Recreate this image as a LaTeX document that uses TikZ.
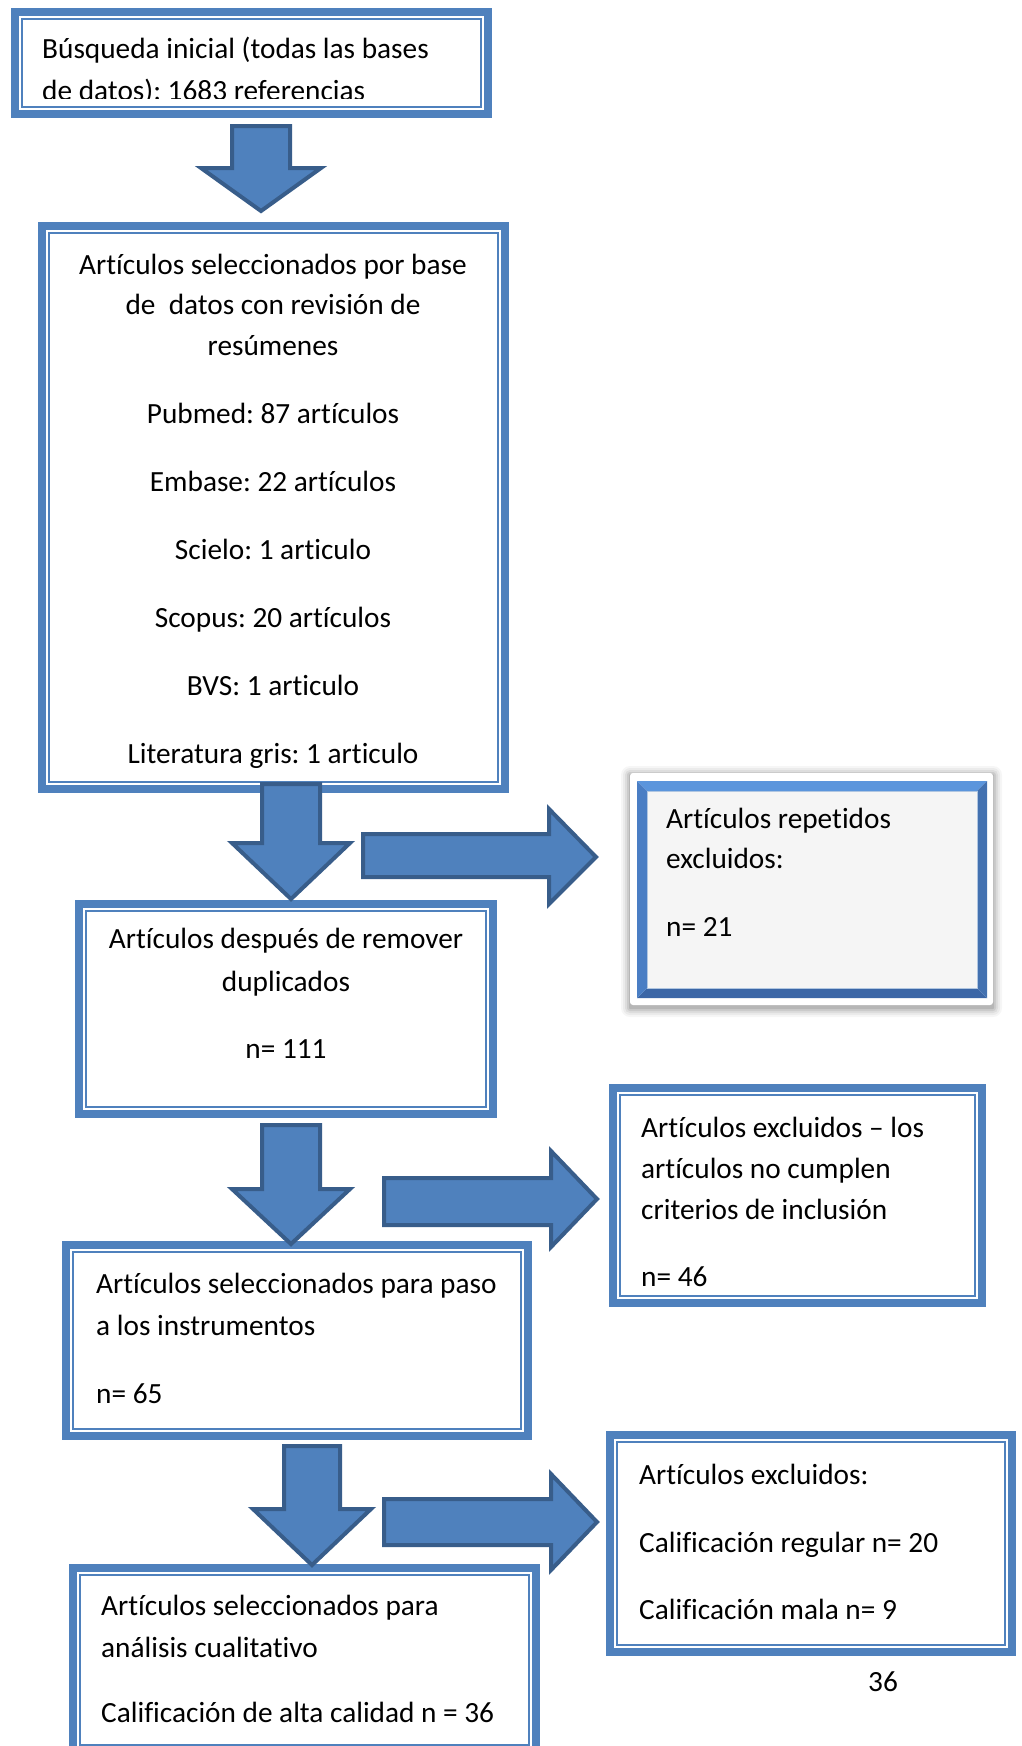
\documentclass[tikz,border=0pt]{standalone}
\usepackage{fontspec}
\setmainfont{Carlito}[Ligatures={NoCommon}]
\frenchspacing
\definecolor{bblue}{HTML}{4F81BD}
\definecolor{bdark}{HTML}{385D8A}
\definecolor{bevtop}{HTML}{5B95DC}
\definecolor{bevside}{HTML}{4A7EC4}
\definecolor{bevbot}{HTML}{3B66A6}
\definecolor{lgray}{HTML}{F5F5F5}
\newcommand\dbox[5]{%
  \node[frame, minimum width={#4-#2-8}, minimum height={#5-#3-8}] (#1) at ({(#2+#4)/2},{(#3+#5)/2}) {};
  \node[thinframe, minimum width={#4-#2-22}, minimum height={#5-#3-22}] (#1-in) at (#1.center) {};
}
\newcommand\downarr[7]{% name cx halfshaft top headtop halfhead tip
  \draw[blk] ({#2-#3},#4) -- ({#2+#3},#4) -- ({#2+#3},#5) -- ({#2+#6},#5)
    -- (#2,#7) coordinate (#1) -- ({#2-#6},#5) -- ({#2-#3},#5) -- cycle;}
\newcommand\rightarr[9]{% name left stop sbot headbase headtop headbot tipx tipy
  \draw[blk] (#2,#3) -- (#5,#3) -- (#5,#6) -- (#8,#9) coordinate (#1) -- (#5,#7) -- (#5,#4) -- (#2,#4) -- cycle;}
\begin{document}
\begin{tikzpicture}[x=1pt,y=-1pt,
  frame/.style={draw=bblue,line width=8pt,fill=white,inner sep=0pt,outer sep=0pt},
  thinframe/.style={draw=bblue,line width=1.8pt,inner sep=0pt,outer sep=0pt},
  blk/.style={fill=bblue,draw=bdark,line width=4pt,line join=miter},
  txt/.style={inner sep=0pt,font=\fontsize{29.3}{41}\selectfont,anchor=base west},
  ctxt/.style={txt,anchor=base}]
\clip (0,0) rectangle (1022,1746);
\fill[white] (0,0) rectangle (1022,1746);

% Box 1
\dbox{b1}{11}{8}{492}{118}
\begin{scope}
  \clip (25,20) rectangle (480,98);
  \node[txt] (b1a) at (42,58) {Búsqueda inicial (todas las bases};
  \node[txt] (b1b) at (42,100) {de datos): 1683 referencias};
\end{scope}

% Box 2
\dbox{b2}{38}{222}{509}{793}
\node[ctxt] (b2a) at (273,274) {Artículos seleccionados por base};
\node[ctxt] (b2b) at (273,314) {de\ \ datos con revisión de};
\node[ctxt] (b2c) at (273,355) {resúmenes};
\node[ctxt] (b2d) at (273,423) {Pubmed: 87 artículos};
\node[ctxt] (b2e) at (273,491) {Embase: 22 artículos};
\node[ctxt] (b2f) at (273,559) {Scielo: 1 articulo};
\node[ctxt] (b2g) at (273,627) {Scopus: 20 artículos};
\node[ctxt] (b2h) at (273,695) {BVS: 1 articulo};
\node[ctxt] (b2i) at (273,763) {Literatura gris: 1 articulo};

% Box 3 (bevel, shadow)
\foreach \i/\o in {9/0.035,7/0.045,5/0.06,3/0.08,1/0.1}
  \fill[black,opacity=\o,rounded corners=\i] ({630-\i},{775-\i}) rectangle ({993+\i},{1008+\i});
\fill[white,rounded corners=3] (630,773) rectangle (993,1005);
\node[inner sep=0pt,outer sep=0pt,minimum width=350,minimum height=217] (b3) at (812,889.5) {};
\fill[bevtop] (b3.north west) -- (b3.north east) -- ([xshift=-10pt,yshift=-10pt]b3.north east) -- ([xshift=10pt,yshift=-10pt]b3.north west) -- cycle;
\fill[bevbot] (b3.south west) -- (b3.south east) -- ([xshift=-10pt,yshift=10pt]b3.south east) -- ([xshift=10pt,yshift=10pt]b3.south west) -- cycle;
\fill[bevside] (b3.north west) -- (b3.south west) -- ([xshift=10pt,yshift=10pt]b3.south west) -- ([xshift=10pt,yshift=-10pt]b3.north west) -- cycle;
\fill[bevside!90!black] (b3.north east) -- (b3.south east) -- ([xshift=-10pt,yshift=10pt]b3.south east) -- ([xshift=-10pt,yshift=-10pt]b3.north east) -- cycle;
\fill[lgray,draw=bblue!45,line width=1pt] ([xshift=10pt,yshift=-10pt]b3.north west) rectangle ([xshift=-10pt,yshift=10pt]b3.south east);
\node[txt] (b3a) at (666,828) {Artículos repetidos};
\node[txt] (b3b) at (666,868) {excluidos:};
\node[txt] (b3c) at (666,936) {n= 21};

% Box 4
\dbox{b4}{75}{900}{497}{1118}
\node[ctxt] (b4a) at (286,948) {Artículos después de remover};
\node[ctxt] (b4b) at (286,991) {duplicados};
\node[ctxt] (b4c) at (286,1058) {n= 111};

% Box 5
\dbox{b5}{609}{1084}{986}{1307}
\node[txt] (b5a) at (641,1137) {Artículos excluidos – los};
\node[txt] (b5b) at (641,1178) {artículos no cumplen};
\node[txt] (b5c) at (641,1219) {criterios de inclusión};
\node[txt] (b5d) at (641,1286) {n= 46};

% Box 6
\dbox{b6}{62}{1241}{532}{1440}
\node[txt] (b6a) at (96,1293) {Artículos seleccionados para paso};
\node[txt] (b6b) at (96,1335) {a los instrumentos};
\node[txt] (b6c) at (96,1403) {n= 65};

% Box 7
\dbox{b7}{69}{1564}{540}{1756}
\node[txt] (b7a) at (101,1615) {Artículos seleccionados para};
\node[txt] (b7b) at (101,1657) {análisis cualitativo};
\node[txt] (b7c) at (101,1722) {Calificación de alta calidad n = 36};

% Box 8
\dbox{b8}{606}{1431}{1016}{1656}
\node[txt] (b8a) at (639,1484) {Artículos excluidos:};
\node[txt] (b8b) at (639,1552) {Calificación regular n= 20};
\node[txt] (b8c) at (639,1619) {Calificación mala n= 9};

% page number
\node[ctxt] (pg) at (883,1691) {36};

% Block arrows
\downarr{a1}{261}{29}{126}{168}{60}{211}
\downarr{a2}{291}{29}{784}{843}{59}{899}
\downarr{a3}{291}{29}{1125}{1189}{59}{1244}
\downarr{a4}{312}{28}{1446}{1509}{59}{1565}
\rightarr{r1}{363}{834}{877}{549}{809}{904}{596}{857}
\rightarr{r2}{384}{1178}{1225}{551}{1151}{1247}{597}{1199}
\rightarr{r3}{384}{1499}{1545}{551}{1474}{1570}{597}{1522}
\end{tikzpicture}
\end{document}
